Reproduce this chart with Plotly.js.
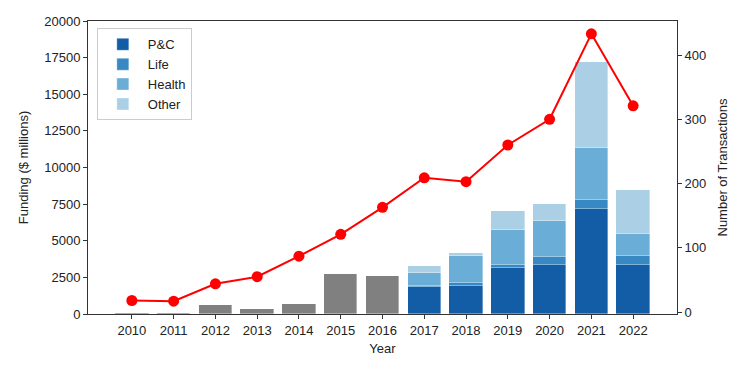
<!DOCTYPE html>
<html>
<head>
<meta charset="utf-8">
<script src="https://cdn.plot.ly/plotly-3.0.1.min.js"></script>
<style>
  body { margin: 0; background: #fff; }
  #chart { width: 747px; height: 374px; }
</style>
</head>
<body>
<div id="chart"></div>
<script>
// early years: total funding only
const earlyYears = [2010, 2011, 2012, 2013, 2014, 2015, 2016];
const earlyFunding = [100, 100, 590, 340, 700, 2750, 2620];

// later years: funding split by line of business
const splitYears = [2017, 2018, 2019, 2020, 2021, 2022];
const pcFunding = [1840, 1880, 3140, 3365, 7190, 3365];
const lifeFunding = [90, 270, 225, 500, 610, 615];
const healthFunding = [870, 1820, 2340, 2455, 3500, 1480];
const otherFunding = [500, 200, 1325, 1210, 5920, 3025];

// number of transactions, all years
const allYears = [2010, 2011, 2012, 2013, 2014, 2015, 2016, 2017, 2018, 2019, 2020, 2021, 2022];
const transactions = [18, 17, 44, 55, 87, 121, 163, 209, 203, 260, 300, 433, 321];

const leftTicks = [0, 2500, 5000, 7500, 10000, 12500, 15000, 17500, 20000];
const rightTicks = [0, 100, 200, 300, 400];

const font = {family: 'Liberation Sans, Arial, sans-serif', size: 13, color: '#222'};
const edge = {color: 'rgba(255,255,255,0.6)', width: 0.6};

function stackTrace(name, y, color) {
  return {
    type: 'bar', x: splitYears, y: y, name: name, width: 0.8,
    marker: {color: color, line: edge}
  };
}

var data = [
  {
    type: 'bar', x: earlyYears, y: earlyFunding, width: 0.8,
    marker: {color: '#808080', line: edge}, showlegend: false
  },
  stackTrace('P&C', pcFunding, '#135ca6'),
  stackTrace('Life', lifeFunding, '#3888c3'),
  stackTrace('Health', healthFunding, '#6aadd6'),
  stackTrace('Other', otherFunding, '#abd0e6'),
  {
    type: 'scatter', mode: 'lines+markers', x: allYears, y: transactions,
    yaxis: 'y2', showlegend: false,
    line: {color: '#ff0000', width: 2},
    marker: {color: '#ff0000', size: 11}
  }
];

var axisLine = {showline: true, linecolor: '#333', linewidth: 1, ticks: 'outside',
  ticklen: 4, tickcolor: '#333', showgrid: false, zeroline: false, tickformat: 'd'};

var layout = {
  width: 747, height: 374,
  margin: {l: 88, r: 70, t: 21, b: 60},
  paper_bgcolor: '#fff', plot_bgcolor: '#fff',
  font: font,
  barmode: 'stack',
  bargap: 0,
  xaxis: Object.assign({}, axisLine, {
    range: [2008.95, 2023.05], tickvals: allYears, mirror: true,
    title: {text: 'Year', standoff: 7, font: font}
  }),
  yaxis: Object.assign({}, axisLine, {
    range: [0, 20000], tickvals: leftTicks,
    title: {text: 'Funding ($ millions)', standoff: 12, font: font}
  }),
  yaxis2: Object.assign({}, axisLine, {
    overlaying: 'y', side: 'right', range: [-3, 453], tickvals: rightTicks,
    title: {text: 'Number of Transactions', standoff: 12, font: font}
  }),
  legend: {
    x: 0.015, y: 0.975, xanchor: 'left', yanchor: 'top',
    bgcolor: 'rgba(255,255,255,0.8)', bordercolor: '#ccc', borderwidth: 1,
    font: font, traceorder: 'normal', itemwidth: 40
  }
};

Plotly.newPlot('chart', data, layout, {displayModeBar: false});
</script>
</body>
</html>
